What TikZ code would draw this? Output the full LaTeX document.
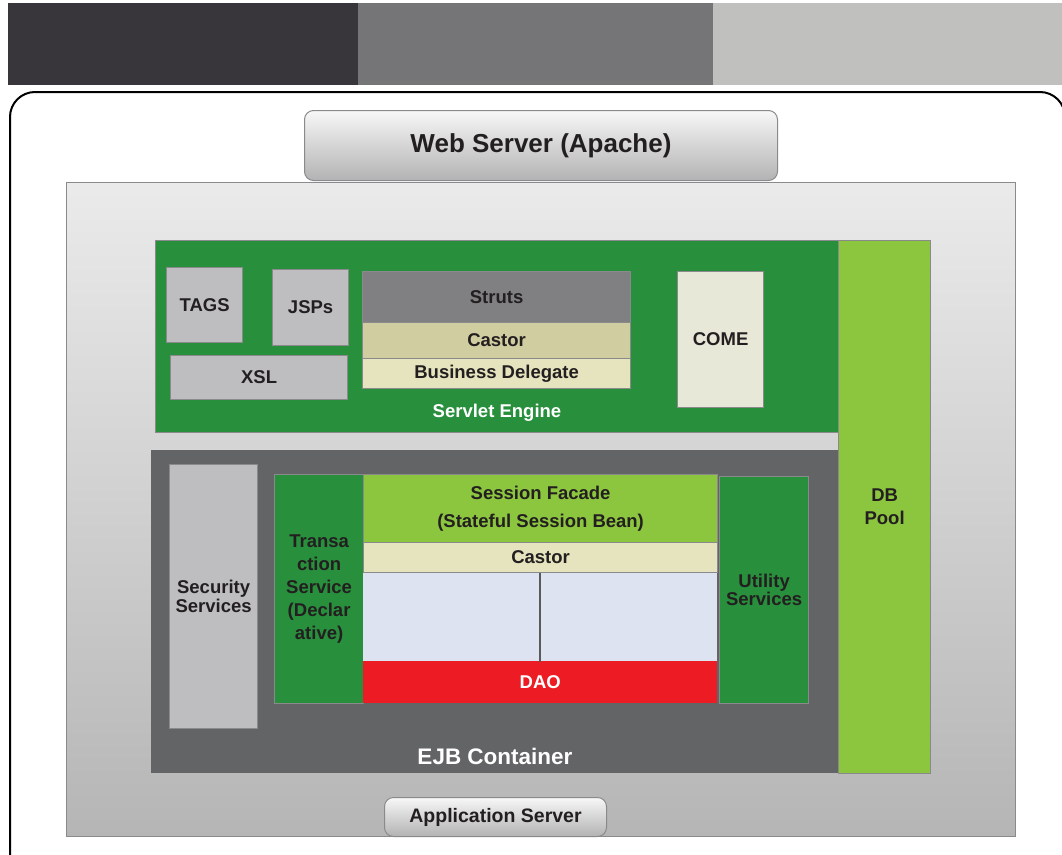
\documentclass[tikz,border=0pt]{standalone}
\usepackage{fontspec}
\setmainfont{Liberation Sans}
\definecolor{barA}{HTML}{38363A}
\definecolor{barB}{HTML}{757577}
\definecolor{barC}{HTML}{C0C0BE}
\definecolor{dkgreen}{HTML}{288F3C}
\definecolor{ltgreen}{HTML}{8CC63F}
\definecolor{boxgray}{HTML}{BEBEC0}
\definecolor{strutsgray}{HTML}{808082}
\definecolor{castorA}{HTML}{D0CEA0}
\definecolor{castorB}{HTML}{E6E4BE}
\definecolor{comefill}{HTML}{E8E8D8}
\definecolor{ejbgray}{HTML}{636466}
\definecolor{daored}{HTML}{ED1C24}
\definecolor{paleblue}{HTML}{DDE3F0}
\definecolor{txt}{HTML}{231F20}
\definecolor{edge}{HTML}{8A8A8C}
\definecolor{divider}{HTML}{5A5A5C}
\begin{document}
\begin{tikzpicture}[x=1pt,y=-1pt,
  blk/.style={draw=edge, line width=1.2pt, anchor=north west, inner sep=0pt, align=center,
     font=\fontsize{18.5}{21}\selectfont\bfseries, text=txt},
  pill/.style={draw=edge, line width=1pt, rounded corners=9pt, anchor=north west, inner sep=0pt,
     top color=white!94!gray, bottom color=black!30!white, font=\bfseries, text=txt},
  lbl/.style={inner sep=0pt, font=\fontsize{18.5}{21}\selectfont\bfseries, text=txt, align=center}]
\useasboundingbox (0,0) rectangle (1062,854);
% top bars
\fill[barA] (8,3) rectangle (358,85);
\fill[barB] (358,3) rectangle (713,85);
\fill[barC] (713,3) rectangle (1062,85);
% frame
\draw[line width=2pt, rounded corners=25pt] (10,860) -- (10,92) -- (1065,92) -- (1065,250);
% application server container
\node[draw=edge, line width=1pt, anchor=north west, inner sep=0pt, minimum width=949pt, minimum height=654pt,
  top color=black!8!white, bottom color=black!29!white] (appsrv) at (66,182) {};
\node[pill, minimum width=473pt, minimum height=70pt, font=\fontsize{26}{28}\selectfont\bfseries] (web) at (304,110) {Web Server (Apache)};
% servlet engine
\node[blk, fill=dkgreen, minimum width=683pt, minimum height=192pt] (servlet) at (155,240) {};
\node[lbl, text=white] (servletlbl) at (497,413) {Servlet Engine};
\node[blk, fill=ltgreen, minimum width=92pt, minimum height=533pt, font=\fontsize{18.5}{23}\selectfont\bfseries] (dbpool) at (838,240) {DB\\Pool};
\node[blk, fill=boxgray, minimum width=76pt, minimum height=75pt] (tags) at (166,267) {TAGS};
\node[blk, fill=boxgray, minimum width=76pt, minimum height=76pt] (jsps) at (272,269) {JSPs};
\node[blk, fill=boxgray, minimum width=177pt, minimum height=44pt] (xsl) at (170,355) {XSL};
\node[blk, fill=strutsgray, minimum width=268pt, minimum height=51pt] (struts) at (362,271) {Struts};
\node[blk, fill=castorA, minimum width=268pt, minimum height=36pt] (castor1) at (362,322) {Castor};
\node[blk, fill=castorB, minimum width=268pt, minimum height=30pt] (bd) at (362,358) {Business Delegate};
\node[blk, fill=comefill, minimum width=86pt, minimum height=136pt] (come) at (677,271) {COME};
% EJB container
\node[anchor=north west, fill=ejbgray, inner sep=0pt, minimum width=687pt, minimum height=323pt] (ejb) at (151,450) {};
\node[lbl, text=white, font=\fontsize{22.5}{24}\selectfont\bfseries] (ejblbl) at (495,756) {EJB Container};
\node[blk, fill=boxgray, minimum width=88pt, minimum height=264pt, font=\fontsize{18.5}{19}\selectfont\bfseries] (sec) at (169,464) {Security\\Services};
\node[blk, fill=dkgreen, minimum width=89pt, minimum height=229pt, font=\fontsize{18.5}{23}\selectfont\bfseries] (trans) at (274,474) {Transa\\ction\\Service\\(Declar\\ative)};
\node[blk, fill=ltgreen, minimum width=354pt, minimum height=68pt, font=\fontsize{18.5}{28}\selectfont\bfseries] (facade) at (363,474) {Session Facade\\(Stateful Session Bean)};
\node[blk, fill=castorB, minimum width=354pt, minimum height=30pt] (castor2) at (363,542) {Castor};
\node[anchor=north west, fill=paleblue, inner sep=0pt, minimum width=354pt, minimum height=89pt] (mid) at (363,572.6) {};
\node[anchor=north west, fill=daored, inner sep=0pt, minimum width=354pt, minimum height=42pt,
  font=\fontsize{18.5}{21}\selectfont\bfseries, text=white] (dao) at (363,661) {DAO};
\draw[line width=2pt, divider] (mid.north) -- (mid.south);
\node[blk, fill=dkgreen, minimum width=89pt, minimum height=227pt, font=\fontsize{18.5}{17}\selectfont\bfseries] (util) at (719,476) {Utility\\Services};
\node[pill, minimum width=222pt, minimum height=39pt, font=\fontsize{19.5}{21}\selectfont\bfseries] (app) at (384,797) {Application Server};
\end{tikzpicture}
\end{document}
